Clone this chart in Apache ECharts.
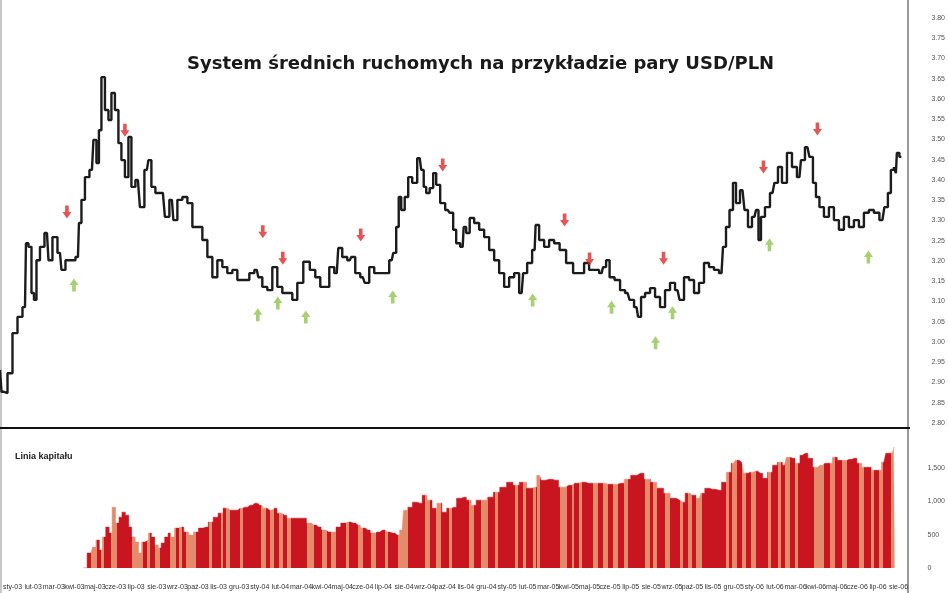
<!DOCTYPE html>
<html><head><meta charset="utf-8">
<script src="https://cdn.jsdelivr.net/npm/echarts@6/dist/echarts.min.js"></script>
<style>html,body{margin:0;padding:0;background:#fff}#c{width:948px;height:593px}</style>
</head><body><div id="c"></div>
<script>
// session index (trading day) of each price sample
const days = [0,3,5,10,15,20,25,27,30,33,35,38,42,47,50,55,60,63,68,73,78,80,83,87,92,95,98,100,103,107,110,113,117,120,123,127,130,133,138,142,147,150,153,158,163,167,172,175,180,185,190,195,200,205,210,215,220,225,230,235,240,247,252,257,260,265,270,275,280,285,290,295,300,307,313,318,323,327,332,337,340,345,350,353,358,363,367,372,377,382,387,392,395,398,400,403,407,410,415,420,423,425,428,432,435,438,443,448,452,455,458,463,465,468,472,477,482,487,492,497,502,507,512,517,522,525,530,535,537,542,547,552,557,563,570,577,582,587,592,597,602,605,608,612,618,623,628,632,637,640,643,648,653,658,663,668,673,678,682,687,692,697,702,707,712,717,722,725,728,732,735,738,743,747,750,755,758,760,763,768,773,777,780,785,790,795,800,803,808,812,815,818,822,827,832,837,842,847,852,857,862,867,872,877,883,887,890,893,896,897,898,902];
// USD/PLN close
const price = [2.931,2.877,2.874,2.923,3.022,3.062,3.086,3.244,3.235,3.121,3.104,3.202,3.235,3.269,3.202,3.259,3.220,3.178,3.202,3.202,3.210,3.294,3.351,3.407,3.425,3.499,3.442,3.523,3.654,3.573,3.548,3.615,3.573,3.491,3.449,3.407,3.506,3.383,3.400,3.333,3.425,3.449,3.383,3.368,3.368,3.309,3.351,3.301,3.351,3.358,3.343,3.284,3.284,3.252,3.210,3.160,3.202,3.185,3.170,3.178,3.153,3.153,3.170,3.178,3.160,3.136,3.128,3.185,3.136,3.121,3.121,3.104,3.146,3.198,3.178,3.160,3.136,3.136,3.185,3.170,3.232,3.210,3.202,3.210,3.170,3.160,3.146,3.185,3.170,3.170,3.170,3.202,3.220,3.284,3.358,3.326,3.358,3.407,3.393,3.454,3.425,3.383,3.368,3.380,3.417,3.388,3.343,3.326,3.319,3.277,3.244,3.235,3.284,3.269,3.306,3.294,3.277,3.259,3.227,3.202,3.170,3.136,3.160,3.170,3.121,3.170,3.195,3.227,3.289,3.252,3.235,3.252,3.244,3.227,3.195,3.170,3.170,3.195,3.178,3.178,3.170,3.185,3.202,3.160,3.153,3.128,3.121,3.104,3.086,3.062,3.111,3.121,3.133,3.111,3.086,3.128,3.146,3.128,3.104,3.160,3.153,3.121,3.146,3.195,3.185,3.178,3.170,3.235,3.284,3.326,3.393,3.343,3.375,3.326,3.284,3.309,3.326,3.252,3.309,3.333,3.368,3.393,3.432,3.393,3.467,3.432,3.407,3.449,3.481,3.457,3.393,3.358,3.333,3.309,3.333,3.301,3.277,3.309,3.284,3.301,3.284,3.319,3.326,3.319,3.301,3.333,3.368,3.425,3.432,3.417,3.467,3.457];
// sell signals (red arrows)
const sellDays = [67,125,263,283,361,443,565,590,664,764,818];
const sellLevels = [3.321,3.523,3.272,3.207,3.264,3.437,3.301,3.205,3.207,3.432,3.526];
// buy signals (green arrows)
const buyDays = [74,258,278,306,393,533,612,656,673,770,869];
const buyLevels = [3.141,3.067,3.096,3.062,3.111,3.104,3.086,2.998,3.072,3.240,3.210];
// equity line ("Linia kapitału")
const eqDays = [72,80,83,87,90,93,97,100,103,107,110,113,117,120,123,127,130,133,137,140,143,147,150,153,157,160,163,167,172,177,182,187,192,197,202,207,212,217,222,227,232,237,242,247,252,257,262,267,272,277,282,287,292,297,302,307,312,317,322,327,332,337,342,347,352,357,362,367,372,377,382,387,392,397,400,405,410,415,420,425,430,435,440,445,450,455,460,465,470,475,480,487,493,500,507,513,520,527,532,537,540,547,553,560,567,573,580,587,593,600,607,613,620,627,633,640,647,653,660,667,673,680,683,688,693,700,703,708,713,720,725,730,735,738,743,747,752,757,762,767,772,777,782,787,790,795,800,805,808,813,818,823,828,833,838,843,848,853,858,863,868,873,878,883,888,892,897,899];
const equity = [0,225,315,420,270,465,615,525,915,675,765,840,795,615,465,390,225,390,420,525,465,345,300,375,465,525,465,600,615,540,495,540,600,615,690,765,825,900,870,870,900,915,945,975,945,900,870,900,825,795,750,750,750,750,675,645,615,570,540,540,615,675,690,675,645,600,570,525,540,570,540,525,495,570,870,915,990,975,1095,1020,900,975,840,900,915,1050,1065,1020,945,1020,1020,1065,1140,1215,1290,1245,1290,1200,1215,1395,1320,1335,1320,1215,1245,1275,1290,1275,1275,1275,1260,1260,1275,1335,1395,1425,1335,1290,1200,1125,1050,1020,990,1125,1095,1050,1125,1200,1185,1170,1290,1440,1575,1620,1590,1425,1440,1455,1425,1350,1440,1545,1590,1545,1665,1650,1575,1695,1725,1650,1515,1545,1575,1575,1665,1620,1620,1635,1650,1575,1515,1515,1470,1470,1590,1725,1740,1815];
// periods shown in the lighter colour [from, to)
const lightPeriods = [[80,86],[90,93],[100,106],[122,133],[137,140],[145,150],[160,167],[170,173],[177,187],[200,203],[212,215],[218,222],[232,235],[253,258],[262,266],[272,276],[280,284],[300,307],[315,320],[325,330],[340,343],[352,357],[365,370],[380,383],[393,403],[420,425],[432,437],[445,448],[465,470],[477,485],[492,495],[512,515],[520,523],[530,533],[535,538],[558,565],[570,572],[577,580],[592,597],[602,607],[612,617],[623,627],[645,650],[653,657],[665,670],[680,683],[688,692],[697,703],[727,730],[733,738],[743,747],[753,758],[770,773],[780,783],[787,792],[797,800],[817,827],[833,838],[845,850],[863,868],[875,878],[883,887],[895,899]];
const xTickLabels = ['sty-03','lut-03','mar-03','kwi-03','maj-03','cze-03','lip-03','sie-03','wrz-03','paź-03','lis-03','gru-03','sty-04','lut-04','mar-04','kwi-04','maj-04','cze-04','lip-04','sie-04','wrz-04','paź-04','lis-04','gru-04','sty-05','lut-05','mar-05','kwi-05','maj-05','cze-05','lip-05','sie-05','wrz-05','paź-05','lis-05','gru-05','sty-06','lut-06','mar-06','kwi-06','maj-06','cze-06','lip-06','sie-06'];

const RED = '#c9151f', LIGHT = '#e68a6c';
const chart = echarts.init(document.getElementById('c'), null, {renderer:'canvas'});
const zip = (a,b) => a.map((v,i)=>[v,b[i]]);
const axLabel = {fontSize:7, color:'#555', fontFamily:'Liberation Sans'};
chart.setOption({
  animation:false,
  backgroundColor:'#fff',
  title:{text:'System średnich ruchomych na przykładzie pary USD/PLN', left:182, top:50,
    textStyle:{fontSize:18, fontWeight:'bold', color:'#1a1a1a', fontFamily:'DejaVu Sans'}},
  grid:[{left:0,right:40,top:18,height:405},{left:0,right:40,top:435,height:133}],
  xAxis:[
    {type:'value',gridIndex:0,min:0,max:908,show:false},
    {type:'value',gridIndex:1,min:0,max:908,interval:21,axisLine:{show:false},axisTick:{show:false},splitLine:{show:false},
      axisLabel:Object.assign({},axLabel,{color:'#333',margin:16,showMaxLabel:false,formatter:v=>xTickLabels[Math.round(v/21)]||''})}
  ],
  yAxis:[
    {type:'value',gridIndex:0,position:'right',min:2.8,max:3.8,interval:0.05,axisLine:{show:false},axisTick:{show:false},splitLine:{show:false},
      axisLabel:Object.assign({},axLabel,{margin:24,formatter:v=>v.toFixed(2)})},
    {type:'value',gridIndex:1,position:'right',min:0,max:2000,interval:500,axisLine:{show:false},axisTick:{show:false},splitLine:{show:false},
      axisLabel:Object.assign({},axLabel,{margin:24,showMaxLabel:false})}
  ],
  visualMap:{type:'piecewise',show:false,dimension:0,seriesIndex:3,
    pieces:lightPeriods.map(p=>({gte:p[0],lt:p[1],color:LIGHT})),outOfRange:{color:RED}},
  series:[
    {type:'line',xAxisIndex:0,yAxisIndex:0,data:zip(days,price),showSymbol:false,symbol:'none',step:'middle',
      lineStyle:{color:'#1c1c1c',width:2.4},z:3},
    {type:'scatter',xAxisIndex:0,yAxisIndex:0,data:zip(sellDays,sellLevels),
      symbol:'path://M3,0 L7,0 L7,6 L10,6 L5,12 L0,6 L3,6 Z',symbolSize:[9,13],itemStyle:{color:'#dd2a2a'},z:4},
    {type:'scatter',xAxisIndex:0,yAxisIndex:0,data:zip(buyDays,buyLevels),
      symbol:'path://M5,0 L10,6 L7,6 L7,12 L3,12 L3,6 L0,6 Z',symbolSize:[9,13],itemStyle:{color:'#95c24f'},z:4},
    {type:'line',xAxisIndex:1,yAxisIndex:1,data:zip(eqDays,equity),step:'middle',showSymbol:false,symbol:'none',
      lineStyle:{width:0.5},areaStyle:{opacity:1}}
  ],
  graphic:[
    {type:'line',shape:{x1:1,y1:0,x2:1,y2:593},style:{stroke:'#c8c8c8',lineWidth:2},silent:true},
    {type:'line',shape:{x1:908,y1:0,x2:908,y2:593},style:{stroke:'#9a9a9a',lineWidth:2},silent:true},
    {type:'line',shape:{x1:0,y1:428,x2:910,y2:428},style:{stroke:'#111',lineWidth:2},silent:true},
    {type:'text',left:15,top:452,style:{text:'Linia kapitału',fontSize:9,fontWeight:'bold',fill:'#222',fontFamily:'Liberation Sans'}}
  ]
});
</script></body></html>
